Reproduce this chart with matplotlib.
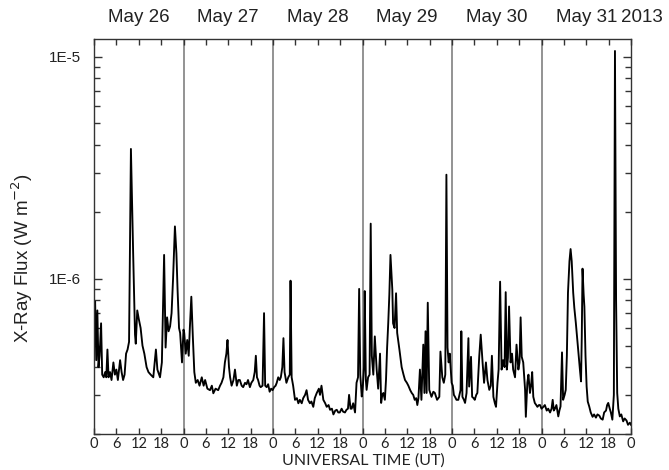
import matplotlib
matplotlib.use("Agg")
import matplotlib.pyplot as plt
import matplotlib.transforms as mtransforms
from matplotlib.ticker import FixedLocator, NullFormatter, FixedFormatter
import numpy as np

# GOES soft X-ray flux, 26-31 May 2013; time in hours from 26 May 00 UT,
# flux in units of 1e-7 W m^-2
hours = [
    0.0, 0.3, 0.6, 0.9, 1.2, 1.5, 1.9, 2.2, 2.6, 3.0, 3.3, 3.6, 3.9, 4.3, 4.7,
    5.2, 5.6, 6.0, 6.4, 7.0, 7.4, 7.8, 8.2, 8.6, 9.0, 9.4, 9.9, 10.5, 11.0,
    11.2, 11.6, 12.0, 12.5, 13.0, 13.5, 14.1, 14.6, 15.2, 15.9, 16.6, 17.0,
    17.7, 18.2, 18.8, 19.2, 19.6, 20.0, 20.4, 20.8, 21.2, 21.7, 22.1, 22.4,
    22.8, 23.1, 23.6, 24.0,
    24.2, 24.6, 25.0, 25.4, 25.7, 26.1, 26.5, 26.9, 27.3, 27.8, 28.3, 28.9,
    29.4, 29.8, 30.4, 31.1, 31.6, 32.0, 32.6, 33.3, 33.8, 34.2, 34.7, 35.1,
    35.5, 35.8, 36.2, 36.5, 36.9, 37.4, 37.8, 38.3, 38.7, 39.1, 39.6, 40.0,
    40.5, 40.9, 41.3, 41.8, 42.2, 42.7, 43.1, 43.4, 43.7, 44.0, 44.4, 44.7,
    45.2, 45.6, 45.9, 46.3, 46.7, 47.1, 47.5, 47.9,
    48.3, 48.7, 49.0, 49.4, 49.8, 50.1, 50.5, 50.8, 51.1, 51.6, 52.1, 52.5,
    52.7, 53.0, 53.4, 53.9, 54.4, 54.8, 55.2, 55.7, 56.1, 56.6, 57.0, 57.4,
    57.9, 58.3, 58.8, 59.2, 59.7, 60.3, 60.6, 61.0, 61.5, 62.0, 62.4, 62.9,
    63.3, 63.8, 64.2, 64.7, 65.1, 65.5, 65.9, 66.4, 66.8, 67.3, 67.7, 68.1,
    68.4, 68.8, 69.1, 69.5, 70.0, 70.4, 70.8, 71.1, 71.4, 71.8,
    72.1, 72.4, 72.6, 72.9, 73.1, 73.5, 73.9, 74.2, 74.5, 74.9, 75.3, 75.8,
    76.2, 76.7, 77.0, 77.3, 77.6, 78.0, 78.3, 78.6, 78.9, 79.2, 79.5, 80.0,
    80.2, 80.6, 81.0, 81.3, 81.9, 82.5, 83.0, 83.4, 83.9, 84.3, 84.8, 85.2,
    85.6, 86.0, 86.4, 86.7, 87.0, 87.4, 87.8, 88.3, 88.6, 88.9, 89.2, 89.5,
    89.9, 90.5, 91.0, 91.4, 92.0, 92.6, 92.9, 93.4, 93.8, 94.2, 94.5, 94.8,
    95.1, 95.4, 95.9,
    96.2, 96.5, 96.8, 97.2, 97.7, 98.3, 98.5, 98.8, 99.2, 99.5, 99.9, 100.4,
    100.6, 101.1, 101.4, 101.8, 102.1, 102.5, 102.8, 103.3, 103.7, 104.2,
    104.6, 105.1, 105.5, 106.0, 106.4, 106.7, 107.1, 107.5, 107.8, 108.2,
    108.5, 108.9, 109.3, 109.7, 110.1, 110.4, 110.7, 111.0, 111.3, 111.7,
    112.1, 112.4, 112.9, 113.3, 113.8, 114.1, 114.4, 114.7, 115.1, 115.6,
    115.8, 116.2, 116.5, 116.9, 117.2, 117.5, 117.8, 118.2, 118.6, 118.9,
    119.3, 119.6, 120.0, 120.5,
    120.9, 121.4, 121.8, 122.3, 122.7, 123.0, 123.3, 123.6, 124.0, 124.5,
    124.8, 125.1, 125.5, 125.8, 126.2, 126.5, 126.8, 127.1, 127.5, 127.8,
    128.1, 128.5, 128.8, 129.2, 129.6, 130.0, 130.3, 130.6, 130.8, 131.0,
    131.3, 131.5, 131.8, 132.1, 132.4, 132.8, 133.2, 133.7, 134.1, 134.6,
    135.0, 135.5, 135.9, 136.4, 136.8, 137.3, 137.6, 137.9, 138.3, 138.6,
    139.0, 139.4, 139.7, 140.0, 140.3, 140.6, 141.0, 141.4, 141.9, 142.3,
    142.8, 143.2, 143.7, 144.0,
]

flux_e7 = [
    5.5, 7.9, 4.3, 7.2, 4.0, 4.5, 6.3, 3.7, 3.6, 3.8, 3.6, 4.8, 3.6, 3.8, 3.5,
    4.2, 3.7, 3.9, 3.5, 4.3, 3.8, 3.5, 3.7, 4.6, 4.8, 5.2, 38.4, 13.0, 5.6,
    5.1, 7.2, 6.6, 6.0, 5.0, 4.6, 4.0, 3.8, 3.7, 3.6, 4.8, 3.9,
    3.6, 4.2, 12.8, 4.9, 6.7, 5.8, 6.1, 7.0, 10.0, 17.2, 13.0, 9.0,
    6.0, 5.7, 4.2, 5.9,
    5.7, 4.6, 5.3, 4.5, 6.0, 8.3, 5.5, 3.8, 3.4, 3.5, 3.3, 3.6,
    3.3, 3.5, 3.2, 3.15, 3.3, 3.05, 3.2, 3.15, 3.3, 3.4, 3.6, 4.2,
    4.6, 5.3, 4.0, 3.6, 3.3, 3.5, 3.9, 3.3, 3.5, 3.5, 3.3, 3.25,
    3.4, 3.35, 3.5, 3.25, 3.4, 3.5, 3.8, 4.5, 3.6, 3.5, 3.3, 3.25,
    3.3, 7.0, 3.3, 3.25, 3.35, 3.1, 3.2, 3.15,
    3.25, 3.3, 3.4, 3.6, 3.5, 3.6, 4.0, 5.4, 3.8, 3.4, 3.6, 3.7,
    9.8, 3.6, 3.3, 2.85, 2.9, 2.75, 2.85, 2.75, 2.9, 3.0, 3.15, 2.85,
    2.75, 2.8, 2.65, 2.9, 3.05, 3.2, 3.0, 3.3, 2.85, 2.75, 2.65, 2.7,
    2.57, 2.6, 2.45, 2.55, 2.57, 2.5, 2.5, 2.6, 2.52, 2.5, 2.57, 2.6,
    3.0, 2.6, 2.6, 2.75, 2.5, 3.4, 3.6, 9.0, 3.7, 2.95,
    3.3, 4.0, 8.8, 3.5, 3.16, 3.6, 3.7, 17.7, 4.5, 3.7, 5.5, 3.9,
    3.2, 4.6, 2.76, 3.0, 3.06, 2.85, 3.5, 4.9, 6.3, 8.5, 12.8, 8.9,
    6.3, 6.0, 8.6, 5.7, 4.8, 4.0, 3.7, 3.5, 3.4, 3.3, 3.15, 3.06,
    3.0, 2.85, 2.9, 2.7, 2.9, 3.9, 2.85, 5.05, 3.06, 5.8, 3.06, 7.8,
    3.16, 2.94, 3.1, 3.06, 2.85, 2.94, 4.7, 3.6, 3.4, 3.7, 29.4, 4.9,
    4.2, 4.6, 3.4,
    3.3, 3.0, 2.94, 2.85, 2.85, 3.16, 5.8, 2.94, 2.85, 2.76, 3.06, 5.4,
    3.27, 4.45, 2.94, 2.9, 2.85, 3.0, 3.06, 4.45, 5.6, 4.2,
    3.4, 4.2, 3.5, 3.16, 3.3, 4.5, 2.94, 2.75, 2.65, 3.4,
    3.9, 9.7, 3.9, 4.3, 4.0, 8.7, 3.9, 4.4, 7.5, 4.2,
    4.6, 3.9, 3.6, 5.05, 3.9, 4.2, 6.7, 4.45, 4.2, 3.16,
    2.39, 3.4, 3.7, 3.06, 3.3, 3.8, 2.94, 2.76, 2.7, 2.65,
    2.7, 2.7, 2.6, 2.65,
    2.7, 2.55, 2.6, 2.5, 2.6, 2.85, 2.55, 2.6, 2.7, 2.4,
    2.55, 2.66, 4.66, 2.85, 3.0, 3.16, 4.5, 8.65, 12.0, 13.6,
    12.0, 8.65, 7.4, 6.34, 5.3, 4.45, 3.9, 3.45, 5.5, 11.1,
    8.5, 7.48, 4.5, 3.27, 2.8, 2.66, 2.5, 2.39, 2.45, 2.37,
    2.45, 2.42, 2.35, 2.32, 2.5, 2.55, 2.7, 2.76, 2.6, 2.5,
    2.32, 3.0, 106.0, 8.0, 3.06, 2.6, 2.4, 2.45, 2.28, 2.35,
    2.3, 2.2, 2.25, 2.2,
]

day_labels = ["May 26", "May 27", "May 28", "May 29", "May 30", "May 31"]
year_label = "2013"
hour_tick_labels = ["0", "6", "12", "18"] * 6 + ["0"]
y_major = [1e-6, 1e-5]
y_major_labels = ["1E-6", "1E-5"]

flux = np.array(flux_e7) * 1e-7
t = np.array(hours)

fig = plt.figure(figsize=(6.69, 4.70), dpi=100)
ax = fig.add_axes([94 / 669, 36 / 470, (631 - 94) / 669, (434 - 39) / 470])

ax.set_yscale("log")
ax.set_xlim(0, 144)
ax.set_ylim(2.0e-7, 1.2e-5)

# day boundaries
for d in range(1, 6):
    ax.axvline(24 * d, color="#8a8a8a", lw=1.3, zorder=1)

ax.plot(t, flux, color="black", lw=1.35, zorder=2)

# x axis: ticks every 6 h
ax.xaxis.set_major_locator(FixedLocator(np.arange(0, 145, 6)))
ax.xaxis.set_major_formatter(FixedFormatter(hour_tick_labels))
ax.yaxis.set_major_locator(FixedLocator(y_major))
ax.yaxis.set_major_formatter(FixedFormatter(y_major_labels))
minor = [m * 10.0 ** e for e in (-7, -6) for m in range(2, 10)]
ax.yaxis.set_minor_locator(FixedLocator(minor))
ax.yaxis.set_minor_formatter(NullFormatter())

ax.tick_params(axis="both", which="both", direction="in", top=True, right=True,
               color="#333333")
ax.tick_params(axis="y", which="major", length=6, width=1, pad=9)
ax.tick_params(axis="y", which="minor", length=4, width=1)
ax.tick_params(axis="x", which="major", length=4, width=1, pad=2)

for lab in ax.get_xticklabels():
    lab.set_fontfamily("Lato")
    lab.set_fontsize(10.5)
    lab.set_color("#222222")
for lab in ax.get_yticklabels():
    lab.set_fontfamily("Liberation Sans")
    lab.set_fontsize(11)
    lab.set_color("#222222")

for s in ax.spines.values():
    s.set_linewidth(1.0)
    s.set_color("#333333")

# day names above the frame
trans = mtransforms.blended_transform_factory(ax.transData, fig.transFigure)
for i, name in enumerate(day_labels):
    ax.text(24 * i + 12, 1 - 18 / 470, name, transform=trans, ha="center",
            va="center", fontsize=13.5, family="Liberation Sans", color="#222222")
ax.text(141.3, 1 - 18 / 470, year_label, transform=trans, ha="left",
        va="center", fontsize=13.5, family="Liberation Sans", color="#222222")

fig.text(363 / 669, 1 - 461 / 470, "UNIVERSAL TIME (UT)", ha="center",
         va="center", fontsize=11.5, family="Lato", color="#222222")
fig.text(22 / 669, 1 - 258 / 470, "X-Ray Flux (W m$^{-2}$)", rotation=90,
         ha="center", va="center", fontsize=13.5, family="Liberation Sans",
         color="#222222")

fig.savefig("out.png", dpi=100)
